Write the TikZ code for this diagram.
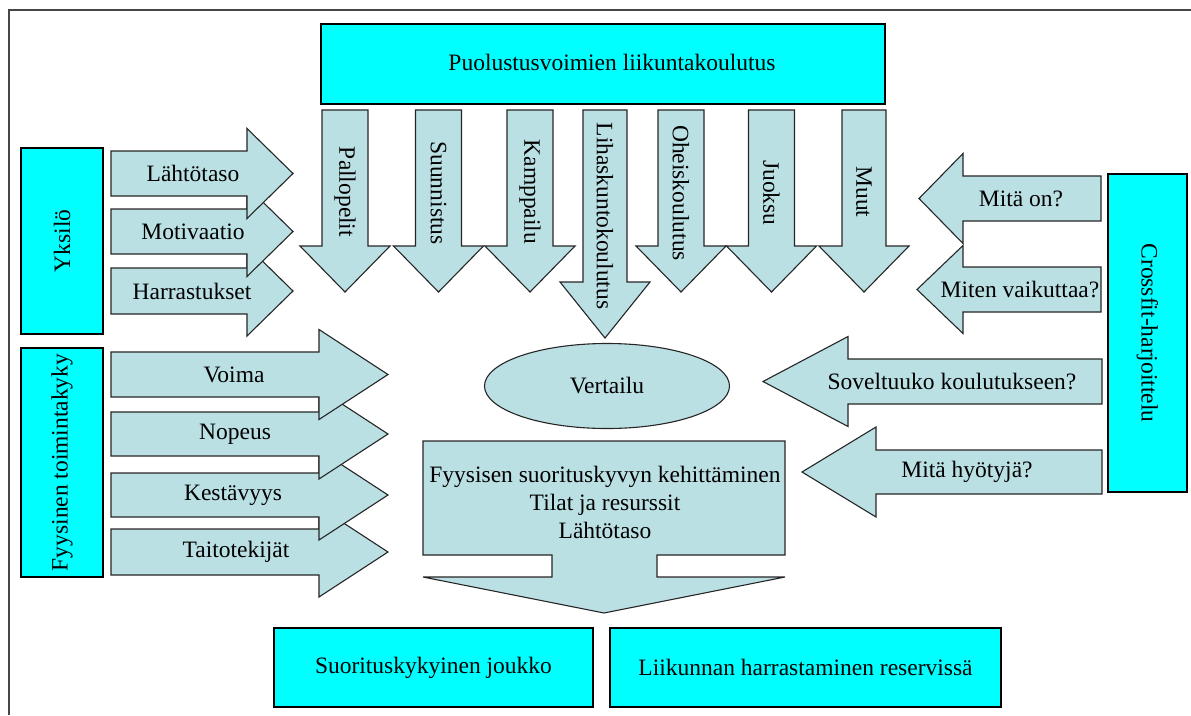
\documentclass[tikz,border=0pt]{standalone}
\usepackage{fontspec}
\setmainfont{Liberation Serif}
\usetikzlibrary{shapes.geometric}
\definecolor{pale}{RGB}{187,224,228}
\definecolor{cyanbox}{RGB}{0,255,255}
\definecolor{framec}{RGB}{70,70,70}
% right/left block arrow: x0, xhead, xtip, ycenter, halfshaft, halfhead
\newcommand{\blockH}[6]{\draw[arrowshape] ({#1},{#4-#5}) -- ({#2},{#4-#5}) -- ({#2},{#4-#6}) -- ({#3},{#4}) -- ({#2},{#4+#6}) -- ({#2},{#4+#5}) -- ({#1},{#4+#5}) -- cycle;}
% down block arrow: xcenter, y0, yhead, ytip, halfshaft, halfhead
\newcommand{\blockD}[6]{\draw[arrowshape] ({#1-#5},{#2}) -- ({#1-#5},{#3}) -- ({#1-#6},{#3}) -- ({#1},{#4}) -- ({#1+#6},{#3}) -- ({#1+#5},{#3}) -- ({#1+#5},{#2}) -- cycle;}
\begin{document}
\begin{tikzpicture}[x=1pt,y=-1pt,
  every node/.style={font=\fontsize{23.5}{28}\selectfont, inner sep=0pt},
  arrowshape/.style={fill=pale, draw=black!85, line width=1.1pt, line join=miter},
  cbox/.style={rectangle, draw=black, line width=1.3pt, fill=cyanbox},
  vlbl/.style={rotate=-90}]
\useasboundingbox (0,0) rectangle (1191,715);
\fill[white] (0,0) rectangle (1191,715);
\draw[framec, line width=2pt] (1191,10) -- (8.5,10) -- (8.5,715);

% top box
\node[cbox, minimum width=564pt, minimum height=80pt] (top) at (603,64) {};
\node (toplbl) at (612,62) {Puolustusvoimien liikuntakoulutus};

% down arrows
\blockD{345}{110}{246}{292}{23}{45}
\blockD{438.5}{110}{246}{292}{23}{45}
\blockD{530}{110}{246}{292}{23}{45}
\blockD{605}{110}{282}{338}{22}{45}
\blockD{681}{110}{246}{292}{23}{45}
\blockD{771.5}{110}{246}{292}{23}{45}
\blockD{864}{110}{246}{292}{22}{45}
\node[vlbl] (pallo) at (345,192) {Pallopelit};
\node[vlbl] (suunn) at (438.5,193) {Suunnistus};
\node[vlbl] (kamp) at (530,192) {Kamppailu};
\node[vlbl] (lihas) at (605,216) {Lihaskuntokoulutus};
\node[vlbl] (oheis) at (681,193) {Oheiskoulutus};
\node[vlbl] (juoksu) at (771.5,193) {Juoksu};
\node[vlbl] (muut) at (864,192) {Muut};

% Yksilo
\node[cbox, rotate=90, minimum width=186pt, minimum height=82pt] (yksilo) at (62,241) {Yksilö};
\blockH{111}{247}{293}{291}{23}{45}
\blockH{111}{247}{293}{231.5}{22.5}{45}
\blockH{111}{247}{293}{173.5}{22.5}{45}
\node (lahto) at (193,173.5) {Lähtötaso};
\node (motiv) at (193,231.5) {Motivaatio};
\node (harr) at (192,291) {Harrastukset};

% Fyysinen toimintakyky
\node[cbox, rotate=90, minimum width=229pt, minimum height=82pt] (fyys) at (62,462.5) {Fyysinen toimintakyky};
\blockH{111}{319}{388}{552}{23}{45}
\blockH{111}{319}{388}{495}{22}{45}
\blockH{111}{319}{388}{434}{22}{45}
\blockH{111}{319}{388}{374.5}{22.5}{45}
\node (voima) at (234,374.5) {Voima};
\node (nopeus) at (235,434) {Nopeus};
\node (kest) at (233,495) {Kestävyys};
\node (taito) at (236,552) {Taitotekijät};

% Crossfit
\node[cbox, rotate=-90, minimum width=318pt, minimum height=79pt] (cross) at (1147.5,333) {Crossfit-harjoittelu};
\blockH{1101}{963}{919}{198.5}{22.5}{45}
\blockH{1101}{963}{917}{289.5}{22.5}{44}
\blockH{1102}{848}{763}{381.5}{22.5}{45}
\blockH{1102}{876}{802}{472}{22}{45}
\node (mitaon) at (1021,198.5) {Mitä on?};
\node (miten) at (1020,289.5) {Miten vaikuttaa?};
\node (solv) at (952,381.5) {Soveltuuko koulutukseen?};
\node (hyoty) at (967,472) {Mitä hyötyjä?};

% Vertailu
\node[ellipse, draw=black!85, fill=pale, line width=1.1pt, minimum width=245pt, minimum height=85pt] (vert) at (607,386) {Vertailu};

% central callout arrow
\draw[arrowshape] (423,441) -- (785,441) -- (785,555) -- (657,555) -- (657,577) -- (785,577) -- (604,613) -- (423,577) -- (552,577) -- (552,555) -- (423,555) -- cycle;
\node[align=center] (kehit) at (605,502) {Fyysisen suorituskyvyn kehittäminen\\Tilat ja resurssit\\Lähtötaso};

% bottom boxes
\node[cbox, minimum width=319pt, minimum height=79pt] (suor) at (433.5,667.5) {Suorituskykyinen joukko};
\node[cbox, minimum width=391pt, minimum height=79pt] (liik) at (805.5,667.5) {Liikunnan harrastaminen reservissä};
\end{tikzpicture}
\end{document}
